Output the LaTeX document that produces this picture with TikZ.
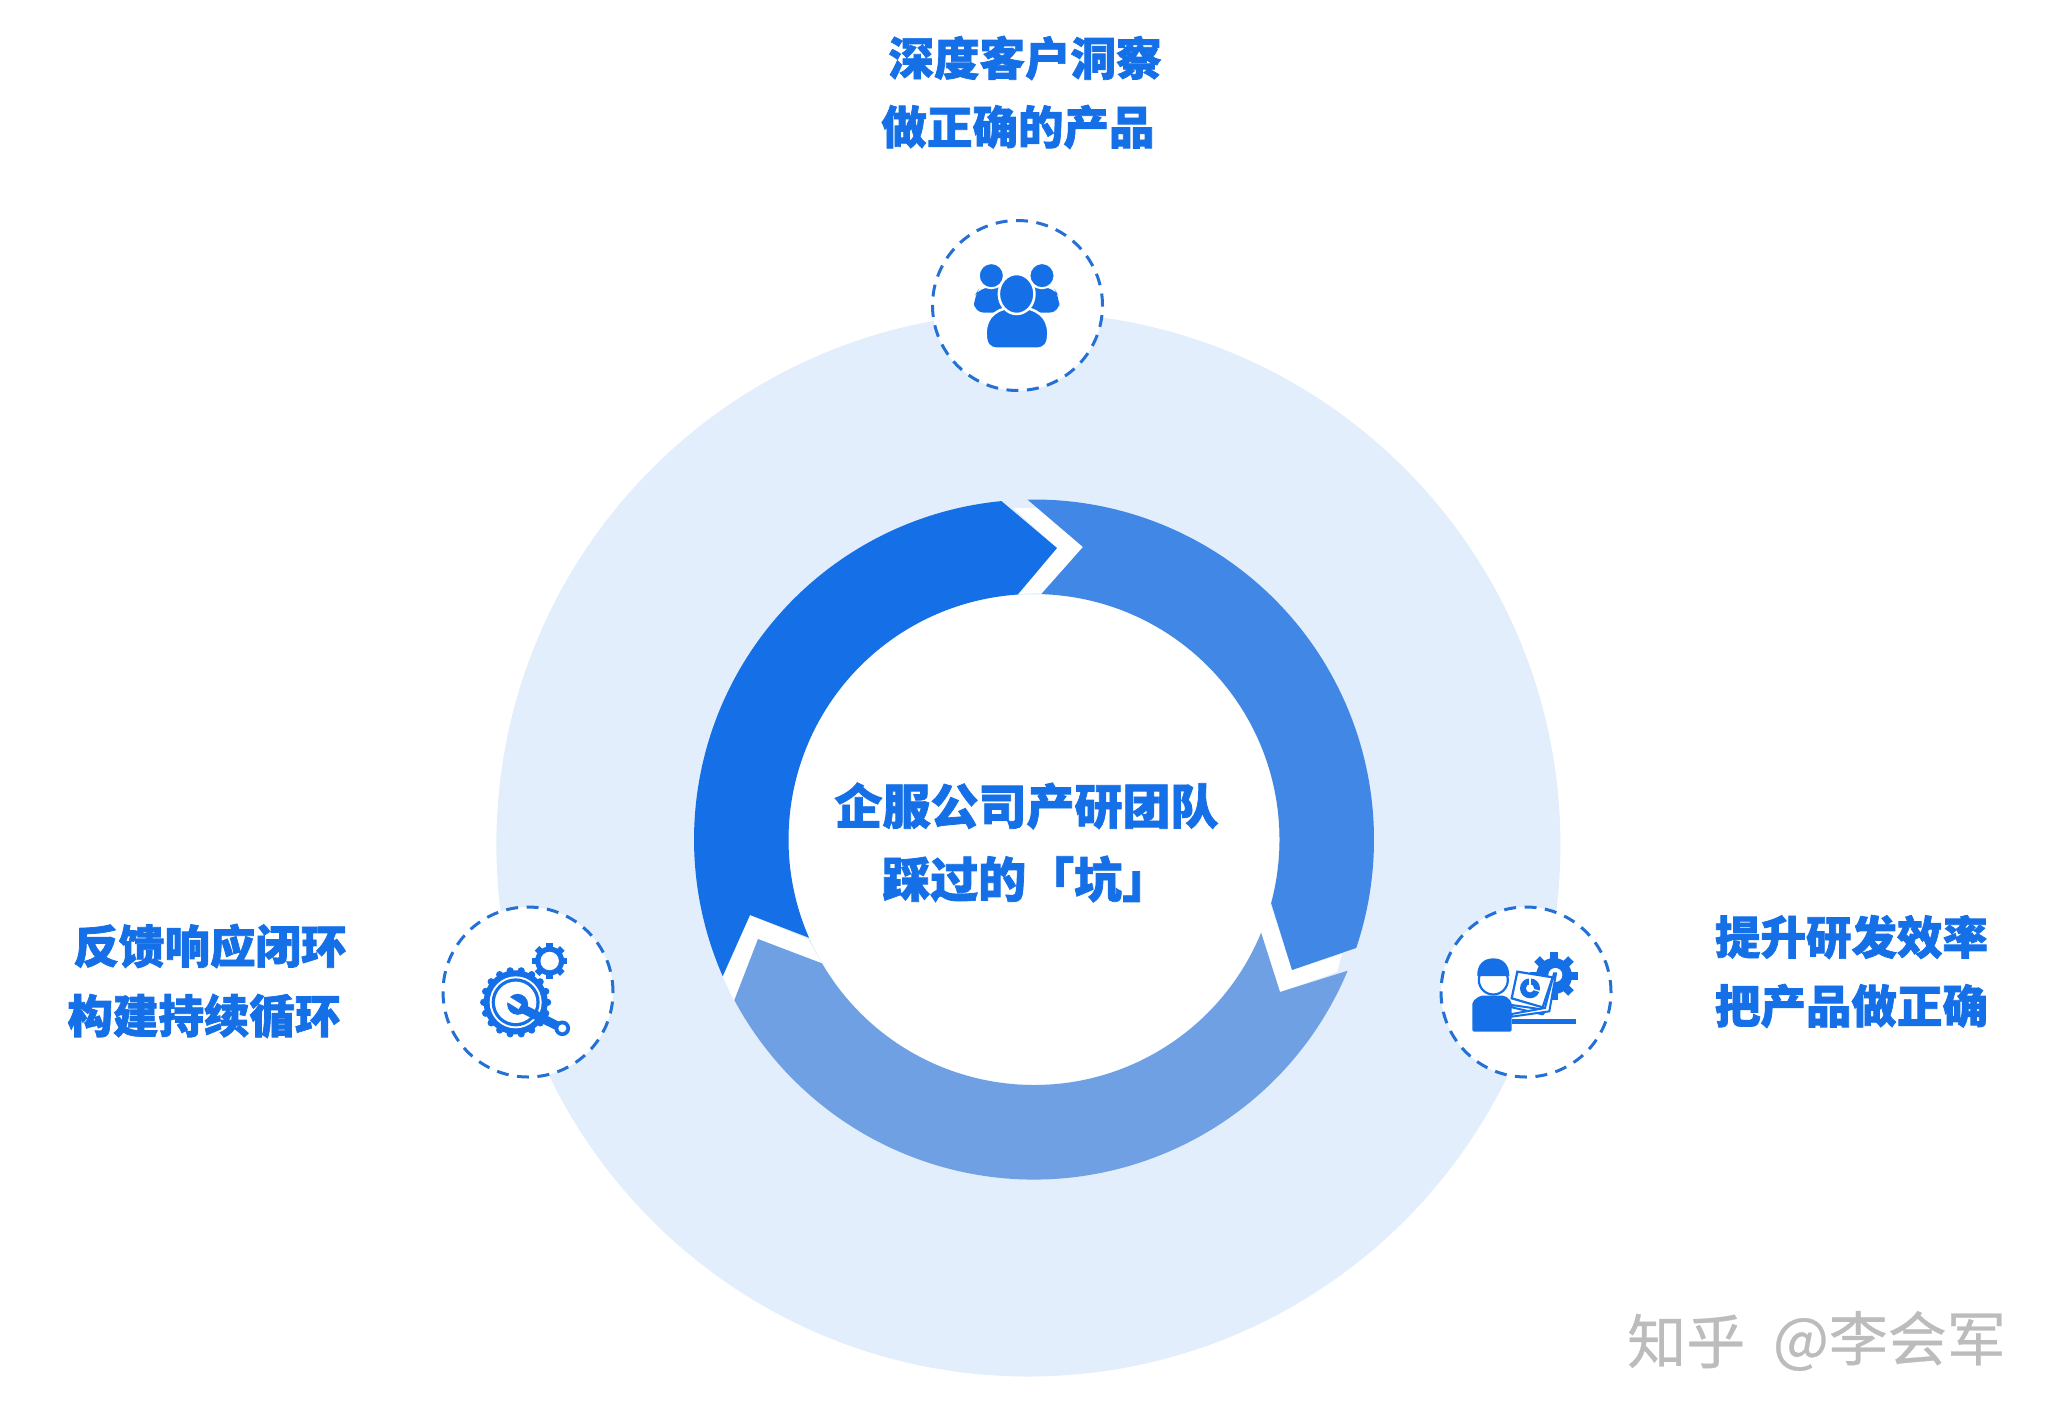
\documentclass[tikz,border=0pt]{standalone}
\usepackage{fontspec}
\usetikzlibrary{calc}
\newfontfamily\cjk{Noto Sans CJK SC}[BoldFeatures={FakeBold=1.6}]
\newfontfamily\markfont{Noto Sans CJK SC}[FakeBold=0.5]
\definecolor{mainblue}{HTML}{1570E8}
\definecolor{midblue}{HTML}{4187E5}
\definecolor{softblue}{HTML}{6FA0E4}
\definecolor{paleblue}{HTML}{E2EEFB}
\definecolor{dashblue}{HTML}{2470D4}
\definecolor{markgray}{HTML}{BCBCBC}
\tikzset{
    headline/.style={inner sep=0pt,text=mainblue,font=\cjk\bfseries\fontsize{45.5}{54}\selectfont},
    midline/.style={inner sep=0pt,text=mainblue,font=\cjk\bfseries\fontsize{48}{58}\selectfont},
    markline/.style={inner sep=0pt,text=markgray,font=\markfont\fontsize{59}{70}\selectfont},
    iconspot/.style={fill=white,draw=dashblue,line width=3pt,dash pattern=on 12pt off 8.5pt},
    zoomed/.style 2 args={shift={(#1,#2)},x=0.3333pt,y=-0.3333pt}
}
\begin{document}
\begin{tikzpicture}[x=1pt,y=-1pt]
\useasboundingbox (0,0) rectangle (2058,1424);
\coordinate (ctr) at (1034,839.5);
\fill[paleblue] (1028.4,844.5) circle[radius=532pt];

% white gaps between the arrows
\fill[white] (1013,508) -- (1040,508) -- (1083,547) -- (1042,593) -- (1018,594) -- (1057,548) -- cycle;
\fill[white] (750,915) -- (808,939) -- (822,964) -- (758,939) -- (734,1001) -- (723,977) -- cycle;
\fill[white] (1292,970) -- (1342,954) -- (1337,972) -- (1280,992) -- (1261,933) -- (1270,903) -- cycle;

% ring corners
\foreach \n/\a/\r in {da/95.5/340,db/203.7/340,dc/203.6/245.5,dd/93.8/245.5,
    ma/91.1/340,mb/-18.6/340,mc/-15/245.5,md/88.3/245.5,
    sa/-22.7/340,sb/-151.8/340,sc/-149.7/245.5,sd/-22.3/245.5}
{
    \coordinate (\n) at ($(ctr)+(\a:\r pt)$);
}
\fill[mainblue] (da) arc[start angle=95.5,end angle=203.7,radius=340pt] -- (750,915) -- (dc)
    arc[start angle=203.6,end angle=93.8,radius=245.5pt] -- (1057,548) -- cycle;
\fill[midblue] (ma) arc[start angle=91.1,end angle=-18.6,radius=340pt] -- (1292,970) -- (mc)
    arc[start angle=-15,end angle=88.3,radius=245.5pt] -- (1083,547) -- cycle;
\fill[softblue] (sa) arc[start angle=-22.7,end angle=-151.8,radius=340pt] -- (758,939) -- (sc)
    arc[start angle=-149.7,end angle=-22.3,radius=245.5pt] -- (1280,992) -- cycle;
\fill[white] (ctr) circle[radius=245pt];

\filldraw[iconspot] (1017.5,305.5) circle[radius=85pt];
\filldraw[iconspot] (528,992) circle[radius=85pt];
\filldraw[iconspot] (1526,992) circle[radius=85pt];

% people
\begin{scope}[zoomed={900}{200}]
\fill[mainblue,rounded corners=10pt] (222,338) -- (222,290) -- (240,262) -- (460,262) -- (478,290) -- (478,338) -- cycle;
\filldraw[mainblue,draw=white,line width=2pt] (274,227) circle[radius=12.6pt];
\filldraw[mainblue,draw=white,line width=2pt] (426,227) circle[radius=12.6pt];
\filldraw[mainblue,draw=white,line width=2.5pt] (257,400) .. controls (257,350) and (290,322) .. (350,322)
    .. controls (410,322) and (445,350) .. (445,400) .. controls (445,432) and (435,446) .. (410,446)
    -- (292,446) .. controls (267,446) and (257,432) .. (257,400) -- cycle;
\filldraw[mainblue,draw=white,line width=2.5pt] (350,282) ellipse[x radius=17.8pt,y radius=20pt];
\end{scope}

% gears and wrench
\begin{scope}[zoomed={420}{890}]
\coordinate (biggear) at (287,337);
\coordinate (smallgear) at (389,213);
\fill[mainblue] (biggear) circle[radius=32pt];
\foreach \a in {0,20,...,340}
{
    \fill[mainblue] ($(biggear)+(\a:32pt)$) circle[radius=3.6pt];
}
\fill[white] (biggear) circle[radius=26pt];
\fill[mainblue] (biggear) circle[radius=24pt];
\fill[white] (biggear) circle[radius=20.7pt];
\fill[mainblue] (smallgear) circle[radius=14.5pt];
\foreach \a in {0,45,...,315}
{
    \draw[mainblue,line width=6.5pt] (smallgear) -- ($(smallgear)+(\a:17.8pt)$);
}
\fill[white] (smallgear) circle[radius=9.2pt];
\draw[mainblue,line width=9pt] (300,352) -- (427,415);
\fill[mainblue] (293,343) circle[radius=10.5pt];
\draw[white,line width=5.5pt] (300,350) -- (255,322);
\fill[mainblue] (427,415) circle[radius=7.8pt];
\fill[white] (427,415) circle[radius=4pt];
\end{scope}

% engineer at laptop
\begin{scope}[zoomed={1430}{890}]
\coordinate (toothgear) at (372,258);
\fill[mainblue] (toothgear) circle[radius=18pt];
\foreach \a in {0,45,...,315}
{
    \draw[mainblue,line width=8pt] (toothgear) -- ($(toothgear)+(\a:24pt)$);
}
\fill[white] (376,255) circle[radius=7pt];
\filldraw[fill=white,draw=mainblue,line width=2pt] (245,352) -- (338,373) -- (348,360) -- (245,345) -- cycle;
\filldraw[fill=white,draw=mainblue,line width=2pt] (245,380) -- (358,364) -- (378,250) -- (372,250) -- (345,354) -- (245,372) -- cycle;
\filldraw[fill=white,draw=mainblue,line width=2.2pt] (262,245) -- (368,262) -- (338,352) -- (245,325) -- cycle;
\fill[mainblue] (300,295) circle[radius=10pt];
\fill[white] (300,295) circle[radius=4pt];
\draw[white,line width=1.2pt] (300,295) -- (300,262);
\draw[white,line width=1.2pt] (300,295) -- (332,305);
\fill[mainblue,rounded corners=2pt] (127,425) -- (127,335) -- (150,317) -- (225,317) -- (245,335) -- (245,425) -- cycle;
\fill[mainblue] (245,387) rectangle (438,403);
\draw[mainblue,line width=2.2pt] (190,270) circle[radius=14.5pt];
\fill[mainblue] (142,258) .. controls (140,225) and (160,205) .. (190,205)
    .. controls (220,205) and (238,225) .. (238,258) -- cycle;
\end{scope}

\node[headline] (topone) at (1025,58) {深度客户洞察};
\node[headline] (toptwo) at (1018,127) {做正确的产品};
\node[headline] (leftone) at (210,946) {反馈响应闭环};
\node[headline] (lefttwo) at (204,1016) {构建持续循环};
\node[headline] (rightone) at (1851.5,937) {提升研发效率};
\node[headline] (righttwo) at (1851.5,1006) {把产品做正确};
\node[midline] (midone) at (1026.5,806) {企服公司产研团队};
\node[midline,anchor=west] (midtwo) at (882,879) {踩过的「坑」};
\node[markline,anchor=west] (markone) at (1627,1341) {知乎};
\node[markline,anchor=east] (marktwo) at (2006,1341) {@李会军};
\end{tikzpicture}
\end{document}
